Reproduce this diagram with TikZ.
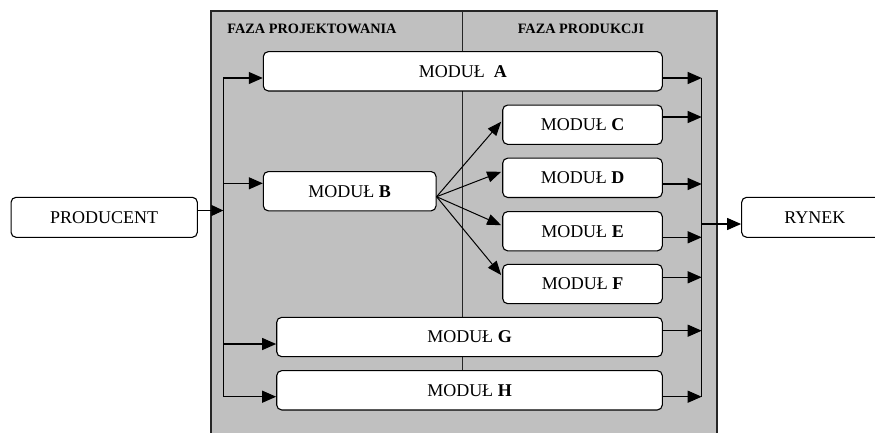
\documentclass[tikz,border=0pt]{standalone}
\usepackage{fontspec}
\setmainfont{Liberation Serif}
\usetikzlibrary{arrows.meta,calc}
\definecolor{panelgray}{HTML}{C0C0C0}
\tikzset{
  box/.style={draw=black, line width=1.1pt, fill=white, rounded corners=5pt, inner sep=0pt,
    minimum height=39.3pt, font=\fontsize{18}{20}\selectfont},
  arr/.style={line width=1.2pt, -{Triangle[length=14pt,width=12pt]}},
  fanarr/.style={line width=1pt, -{Triangle[length=14pt,width=11pt]}},
  bus/.style={line width=1.2pt},
  hdr/.style={font=\fontsize{14.3}{16}\selectfont\bfseries, inner sep=0pt}
}
\begin{document}
\begin{tikzpicture}[x=1pt,y=-1pt]
\useasboundingbox (0,0) rectangle (875,432);
% panel
\fill[panelgray] (211,11) rectangle (716.7,445);
\draw[line width=1.6pt, black!85] (211,445) -- (211,11) -- (716.7,11) -- (716.7,445);
\draw[line width=1.1pt, black!85] (462.7,11) -- (462.7,375);
\node[hdr] (h1) at (312,29) {FAZA PROJEKTOWANIA};
\node[hdr] (h2) at (581,29) {FAZA PRODUKCJI};
% nodes
\node[box, minimum width=186.3pt, minimum height=40pt] (P) at (104.2,217.3) {PRODUCENT};
\node[box, minimum width=399pt] (A) at (462.8,71.3) {MODUŁ \ \textbf{A}};
\node[box, minimum width=172.7pt] (B) at (349.7,191.2) {MODUŁ \textbf{B}};
\node[box, minimum width=159.6pt] (C) at (582.5,124.7) {MODUŁ \textbf{C}};
\node[box, minimum width=159.6pt] (D) at (582.5,177.8) {MODUŁ \textbf{D}};
\node[box, minimum width=159.6pt] (E) at (582.5,231.2) {MODUŁ \textbf{E}};
\node[box, minimum width=159.6pt] (F) at (582.5,284) {MODUŁ \textbf{F}};
\node[box, minimum width=385.6pt] (G) at (469.5,337) {MODUŁ \textbf{G}};
\node[box, minimum width=385.6pt] (H) at (469.5,390.3) {MODUŁ \textbf{H}};
\node[box, minimum width=146.3pt, minimum height=40pt] (R) at (814.8,217.3) {RYNEK};
% left bus
\coordinate (lA) at (223.3,78);
\coordinate (lB) at (223.3,183.3);
\coordinate (lG) at (223.3,344);
\coordinate (lH) at (223.3,396.7);
\coordinate (pin) at (223.3,210.5);
\draw[bus] (lA) -- (lH);
\draw[arr] (lA) -- (lA -| A.west);
\draw[arr] (lB) -- (lB -| B.west);
\draw[arr] (lG) -- (lG -| G.west);
\draw[arr] (lH) -- (lH -| H.west);
\draw[line width=1pt, -{Triangle[length=12pt,width=11pt]}] (pin -| P.east) -- (pin);
% fan from B
\coordinate (fan) at ($(B.east)+(0,5.5)$);
\draw[fanarr] (fan) -- ($(C.west)+(-1,-3)$);
\draw[fanarr] (fan) -- ($(D.west)+(-1,-6)$);
\draw[fanarr] (fan) -- ($(E.west)+(-1,-6)$);
\draw[fanarr] (fan) -- ($(F.west)+(-1,-9)$);
% right bus
\coordinate (rA) at (701.7,78);
\coordinate (rC) at (701.7,117);
\coordinate (rD) at (701.7,184);
\coordinate (rE) at (701.7,237.3);
\coordinate (rF) at (701.7,277.3);
\coordinate (rG) at (701.7,330.7);
\coordinate (rH) at (701.7,396.7);
\coordinate (rout) at (701.7,224);
\draw[bus] (rA) -- (rH);
\draw[arr] (rA -| A.east) -- (rA);
\draw[arr] (rC -| C.east) -- (rC);
\draw[arr] (rD -| D.east) -- (rD);
\draw[arr] (rE -| E.east) -- (rE);
\draw[arr] (rF -| F.east) -- (rF);
\draw[arr] (rG -| G.east) -- (rG);
\draw[arr] (rH -| H.east) -- (rH);
\draw[arr] (rout) -- (rout -| R.west);
\end{tikzpicture}
\end{document}
